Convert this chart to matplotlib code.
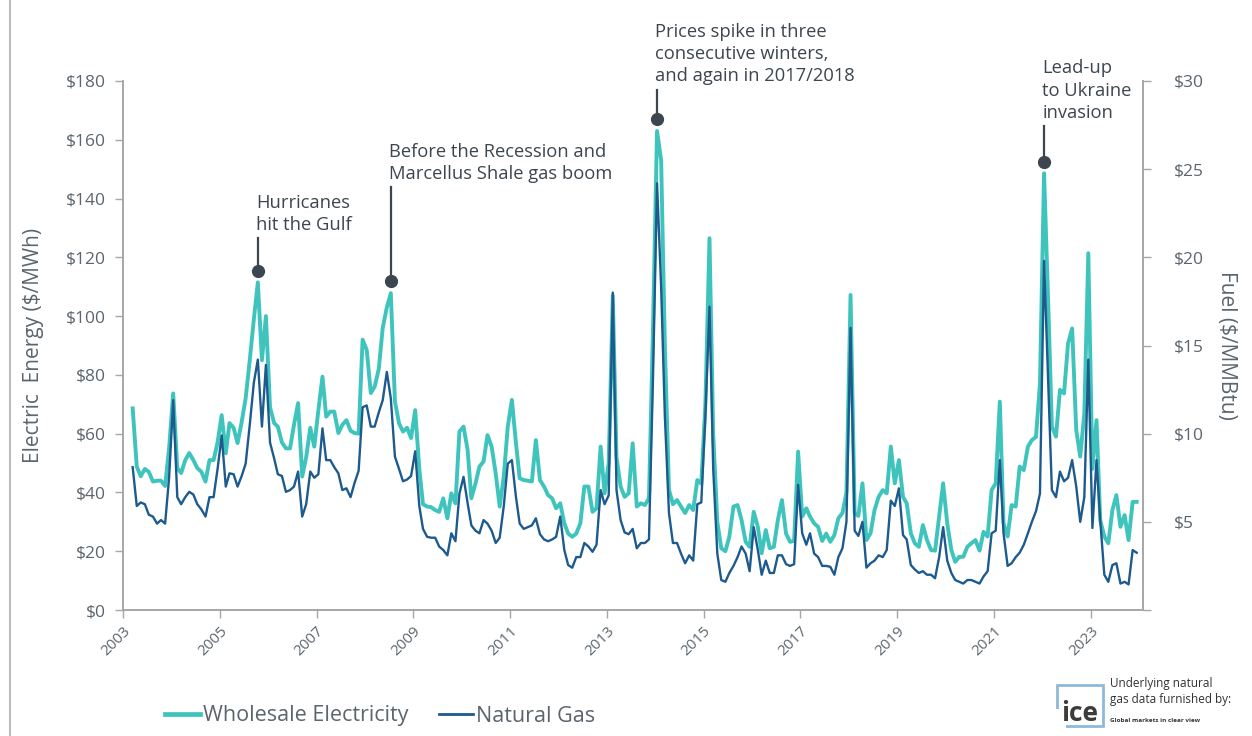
import numpy as np
import pandas as pd
import matplotlib
matplotlib.use('Agg')
from matplotlib import pyplot as plt
from matplotlib.patches import Rectangle
from matplotlib.lines import Line2D

plt.rcParams['font.family'] = ['Open Sans', 'DejaVu Sans']

# monthly averages, Mar 2003 .. Dec 2023
elec_by_year = {
    2003: [68.6, 48.8, 45.5, 48, 47, 43.7, 44, 44, 42.2, 55],
    2004: [73.7, 48.3, 46.6, 51, 53.4, 51, 48.3, 47, 43.7, 51, 51, 57],
    2005: [66.3, 53.3, 63.6, 62, 56.8, 64, 72, 85, 99, 111.5, 85, 100],
    2006: [69, 63.6, 62.4, 57, 55, 55, 63, 70.4, 45.4, 52, 62, 55.6],
    2007: [68, 79.4, 65.8, 67.5, 67.5, 60.2, 63, 64.6, 61, 60.2, 60, 92],
    2008: [88.5, 73.8, 76, 82, 96, 103, 107.8, 71, 63.5, 60.7, 62, 58.5],
    2009: [68, 48, 36, 35.2, 35, 34, 33.4, 38, 31.2, 39.7, 36.3, 60.7],
    2010: [62.4, 54.4, 38, 43, 48.8, 50.5, 59.5, 55.6, 46.5, 35.2, 45.4, 62.4],
    2011: [71.5, 56.7, 44.8, 44.2, 44, 43.7, 57.8, 44.2, 42, 39.1, 38, 34.6],
    2012: [36.3, 29.5, 26, 24.9, 26, 29.5, 42, 42, 33.4, 34.6, 55.6, 39.7],
    2013: [50, 107, 52, 42, 38.5, 39.7, 56.7, 35.2, 36.3, 35.7, 38, 95],
    2014: [163, 153, 90, 41, 36, 37.4, 35.2, 33, 35.7, 34, 44.2, 43],
    2015: [70, 126.5, 60, 30, 21, 20, 25, 35.2, 35.7, 30.6, 23.2, 21.5],
    2016: [33.4, 28.3, 19.3, 27.2, 21, 21.5, 30.6, 37.4, 26, 23.2, 23.5, 53.9],
    2017: [31.8, 34.6, 31.8, 29.5, 28.3, 23.5, 26, 23.2, 25.5, 31.2, 33, 40],
    2018: [107.2, 32.9, 32, 43.1, 23.8, 26.1, 34, 38.5, 40.8, 39.7, 55.6, 43.1],
    2019: [51, 38.5, 36.3, 26.1, 22.7, 21.5, 28.9, 23.8, 20.4, 20.2, 32, 43.1],
    2020: [29.5, 20.4, 16.4, 18.1, 18.1, 21.5, 22.7, 23.8, 20.2, 26.6, 25, 40.8],
    2021: [43.1, 70.9, 29.5, 25, 35.7, 35.2, 48.8, 47.6, 55.6, 57.8, 58.9, 77.1],
    2022: [148.6, 105, 62.4, 59, 74.9, 73.7, 90.7, 95.8, 61.2, 52.2, 66.9, 121.4],
    2023: [48, 64.6, 30.6, 25, 22.7, 34, 39.1, 28.3, 32.3, 23.8, 36.8, 36.8],
}
gas_by_year = {
    2003: [8.1, 5.9, 6.1, 6.0, 5.4, 5.3, 4.9, 5.1, 4.9, 7.5],
    2004: [11.9, 6.4, 6.0, 6.4, 6.7, 6.55, 6.0, 5.7, 5.3, 6.4, 6.4, 8.0],
    2005: [9.9, 7.0, 7.75, 7.7, 7.0, 7.6, 8.3, 10.5, 12.9, 14.2, 10.4, 13.9],
    2006: [9.5, 8.6, 7.7, 7.6, 6.7, 6.8, 7.0, 7.85, 5.3, 6.0, 7.85, 7.5],
    2007: [7.7, 10.3, 8.5, 8.5, 8.1, 7.75, 6.8, 6.9, 6.4, 7.2, 7.9, 11.5],
    2008: [11.6, 10.4, 10.4, 11.2, 11.9, 13.5, 12.0, 8.7, 8.0, 7.3, 7.4, 7.6],
    2009: [9.0, 5.9, 4.6, 4.15, 4.1, 4.1, 3.6, 3.4, 3.1, 4.35, 3.9, 6.6],
    2010: [7.55, 6.05, 4.8, 4.5, 4.35, 5.1, 4.9, 4.5, 3.8, 4.1, 5.9, 8.3],
    2011: [8.5, 6.4, 4.9, 4.6, 4.7, 4.8, 5.2, 4.3, 4.0, 3.9, 4.0, 4.15],
    2012: [5.3, 3.4, 2.55, 2.4, 3.0, 3.0, 3.8, 3.6, 3.3, 3.7, 6.8, 6.0],
    2013: [6.5, 18.0, 6.8, 5.1, 4.4, 4.3, 4.6, 3.5, 3.8, 3.8, 4.0, 13.0],
    2014: [24.2, 18.3, 11.0, 5.5, 3.8, 3.8, 3.2, 2.65, 3.1, 2.8, 6.0, 6.1],
    2015: [11.0, 17.2, 8.0, 3.2, 1.7, 1.6, 2.1, 2.5, 3.0, 3.6, 3.2, 2.2],
    2016: [4.7, 3.4, 2.0, 2.8, 2.1, 2.1, 3.1, 3.1, 2.6, 2.5, 2.6, 7.1],
    2017: [4.35, 3.7, 4.35, 3.2, 3.0, 2.5, 2.5, 2.45, 2.0, 3.0, 3.5, 5.0],
    2018: [16.0, 4.5, 4.2, 5.0, 2.4, 2.65, 2.8, 3.1, 3.0, 3.4, 6.2, 5.9],
    2019: [6.9, 4.25, 4.0, 2.55, 2.3, 2.1, 2.2, 2.0, 2.0, 1.8, 3.0, 4.7],
    2020: [2.8, 2.1, 1.7, 1.6, 1.5, 1.7, 1.7, 1.6, 1.5, 1.9, 2.2, 4.35],
    2021: [4.5, 8.5, 4.35, 2.5, 2.65, 3.0, 3.25, 3.7, 4.35, 5.0, 5.6, 6.6],
    2022: [19.8, 13.0, 6.8, 6.4, 7.85, 7.3, 7.5, 8.5, 7.0, 5.0, 6.4, 14.2],
    2023: [4.65, 8.5, 5.1, 2.0, 1.6, 2.55, 2.65, 1.5, 1.6, 1.45, 3.4, 3.25],
}

elec = np.concatenate([elec_by_year[y] for y in sorted(elec_by_year)])
gas = np.concatenate([gas_by_year[y] for y in sorted(gas_by_year)])
months = pd.date_range('2003-03-01', '2023-12-01', freq='MS') + pd.Timedelta(days=14)

# (peak month, text, height of text above the marker)
events = [
    ('2005-10', 'Hurricanes\nhit the Gulf', 11),
    ('2008-07', 'Before the Recession and\nMarcellus Shale gas boom', 32),
    ('2014-01', 'Prices spike in three\nconsecutive winters,\nand again in 2017/2018', 10),
    ('2022-01', 'Lead-up\nto Ukraine\ninvasion', 12),
]

TEAL = '#3ec4bc'
NAVY = '#1d5a8e'
AXIS = '#a6a6a6'
TXT = '#5b656d'
NOTE = '#3c464e'

fig = plt.figure(figsize=(12.52, 7.36), dpi=100)
ax = fig.add_axes([123/1252, 1 - 610/736, (1143-123)/1252, (610-81)/736])
ax2 = ax.twinx()

ax.plot(months, elec, color=TEAL, lw=2.8, solid_joinstyle='round', zorder=3)
ax2.plot(months, gas, color=NAVY, lw=1.7, solid_joinstyle='round', zorder=3)

ax.set_xlim(pd.Timestamp('2003-01-01'), pd.Timestamp('2024-02-01'))
ax.set_ylim(0, 180)
ax2.set_ylim(0, 30)

ax.set_yticks(range(0, 181, 20))
ax.set_yticklabels([f'${v}' for v in range(0, 181, 20)])
ax2.set_yticks(range(0, 31, 5))
ax2.set_yticklabels([''] + [f'${v}' for v in range(5, 31, 5)])

years = list(range(2003, 2024, 2))
ax.set_xticks([pd.Timestamp(f'{y}-01-01') for y in years])
ax.set_xticklabels([str(y) for y in years], rotation=45, ha='right',
                   rotation_mode='anchor', fontsize=11, color=TXT)

for a in (ax, ax2):
    for s in a.spines.values():
        s.set_color(AXIS)
        s.set_linewidth(1.2)
    a.spines['top'].set_visible(False)
    a.tick_params(colors=AXIS, labelcolor=TXT, labelsize=12.5, length=6, width=1)
ax.tick_params(axis='x', pad=4, labelsize=11)
ax.tick_params(axis='y', pad=6)
ax2.tick_params(axis='y', pad=16)

ax.set_ylabel('Electric  Energy ($/MWh)', fontsize=15, color=TXT, labelpad=16)
ax2.set_ylabel('Fuel ($/MMBtu)', fontsize=15, color=TXT, rotation=270,
               labelpad=24)

# event markers sit a little above the monthly peak
for month, label, rise in events:
    t = pd.Timestamp(month + '-15')
    peak = elec[list(months.strftime('%Y-%m')).index(month)]
    dot = peak + 4
    top = dot + rise
    ax.plot([t, t], [dot, top], color=NOTE, lw=1.6, clip_on=False, zorder=5)
    ax.plot([t], [dot], 'o', color=NOTE, ms=8.5, clip_on=False, zorder=6)
    ax.text(t - pd.Timedelta(days=12), top + 1.5, label, fontsize=13.2,
            color=NOTE, ha='left', va='bottom', linespacing=1.3, clip_on=False)

handles = [Line2D([], [], color=TEAL, lw=3.4), Line2D([], [], color=NAVY, lw=2)]
fig.legend(handles, ['Wholesale Electricity', 'Natural Gas'], loc='center left',
           bbox_to_anchor=(146/1252, 1 - 716/736), ncol=2, frameon=False,
           fontsize=15.5, handlelength=1.6, handletextpad=0.15, columnspacing=1.4,
           labelcolor=TXT)

# data credit in the lower right corner
fig.patches.append(Rectangle((1057/1252, 1 - 726/736), 46/1252, 41/736,
                             transform=fig.transFigure, fill=False,
                             edgecolor='#8fb9da', lw=2))
fig.patches.append(Rectangle((1052/1252, 1 - 729/736), 14/1252, 20/736,
                             transform=fig.transFigure, facecolor='white',
                             edgecolor='none'))
fig.text(1061/1252, 1 - 727/736, 'ice', fontsize=19, color='#3c3c3c',
         ha='left', va='bottom', fontweight='bold')
fig.text(1110/1252, 1 - 691/736, 'Underlying natural\ngas data furnished by:',
         fontsize=8.5, color='#333333', ha='left', va='center', linespacing=1.3)
fig.text(1110/1252, 1 - 721/736, 'Global markets in clear view', fontsize=4.6,
         color='#333333', ha='left', va='center', fontweight='bold')

fig.add_artist(Line2D([10/1252, 10/1252], [0, 1], transform=fig.transFigure,
                      color='#bdbdbd', lw=1.5))

fig.savefig('out.png', dpi=100)
